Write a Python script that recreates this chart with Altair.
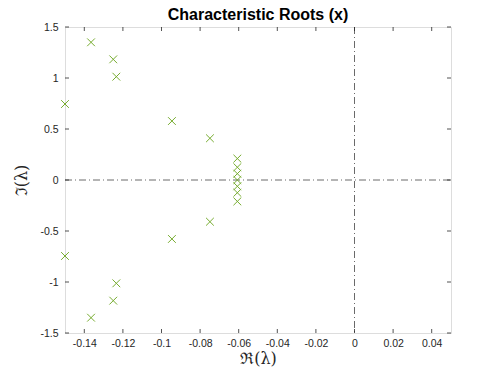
import altair as alt
import pandas as pd

# Characteristic roots (real, imaginary)
re_vals = [-0.1365, -0.125, -0.1234, -0.150, -0.0946, -0.0749,
           -0.0607, -0.0607, -0.0607, -0.0607,
           -0.0749, -0.0946, -0.150, -0.1234, -0.125, -0.1365,
           -0.0607, -0.0607, -0.0607]
im_vals = [1.35, 1.183, 1.013, 0.745, 0.578, 0.409,
           0.21, 0.125, 0.062, 0.0,
           -0.409, -0.578, -0.745, -1.013, -1.183, -1.35,
           -0.062, -0.125, -0.21]

x_ticks = [-0.14, -0.12, -0.1, -0.08, -0.06, -0.04, -0.02, 0, 0.02, 0.04]
y_ticks = [-1.5, -1, -0.5, 0, 0.5, 1, 1.5]

W, H = 386, 306
TL = 4

pts = pd.DataFrame({"re": re_vals, "im": im_vals})
xt = pd.DataFrame({"v": x_ticks})
yt = pd.DataFrame({"v": y_ticks})
zero = pd.DataFrame({"v": [0]})

xs = alt.Scale(domain=[-0.15, 0.05], nice=False, zero=False)
ys = alt.Scale(domain=[-1.5, 1.5], nice=False, zero=False)

lab = "replace(format(datum.value, '~g'), '\u2212', '-')"

xaxis = alt.Axis(values=x_ticks, ticks=False, domain=False, grid=False,
                 labelExpr=lab, labelFont="Liberation Sans", labelFontSize=10.5,
                 labelColor="#262626", labelPadding=5,
                 title="\u211c(\u03bb)", titleFont="DejaVu Serif",
                 titleFontSize=16, titleFontWeight="normal", titleColor="#262626",
                 titlePadding=2)
yaxis = alt.Axis(values=y_ticks, ticks=False, domain=False, grid=False,
                 labelExpr=lab, labelFont="Liberation Sans", labelFontSize=10.5,
                 labelColor="#262626", labelPadding=7,
                 title="\u2111(\u03bb)", titleFont="DejaVu Serif",
                 titleFontSize=16, titleFontWeight="normal", titleColor="#262626",
                 titlePadding=10)

base_points = alt.Chart(pts).mark_point(
    shape="M-1,-1L1,1M-1,1L1,-1", filled=False, size=60,
    strokeWidth=1, color="#77ac30", opacity=1
).encode(
    x=alt.X("re:Q", scale=xs, axis=xaxis),
    y=alt.Y("im:Q", scale=ys, axis=yaxis),
)

tick_style = dict(color="#262626", strokeWidth=0.8)
xt_bot = alt.Chart(xt).mark_rule(**tick_style).encode(
    x=alt.X("v:Q", scale=xs), y=alt.value(H - TL), y2=alt.value(H))
xt_top = alt.Chart(xt).mark_rule(**tick_style).encode(
    x=alt.X("v:Q", scale=xs), y=alt.value(0), y2=alt.value(TL))
yt_left = alt.Chart(yt).mark_rule(**tick_style).encode(
    y=alt.Y("v:Q", scale=ys), x=alt.value(0), x2=alt.value(TL))
yt_right = alt.Chart(yt).mark_rule(**tick_style).encode(
    y=alt.Y("v:Q", scale=ys), x=alt.value(W - TL), x2=alt.value(W))

dash = [7, 3, 1, 3]
vline = alt.Chart(zero).mark_rule(color="#444444", strokeWidth=0.8, strokeDash=dash).encode(
    x=alt.X("v:Q", scale=xs), y=alt.value(0), y2=alt.value(H))
hline = alt.Chart(zero).mark_rule(color="#444444", strokeWidth=0.8, strokeDash=dash).encode(
    y=alt.Y("v:Q", scale=ys), x=alt.value(0), x2=alt.value(W))

chart = alt.layer(
    vline, hline, xt_bot, xt_top, yt_left, yt_right, base_points
).properties(
    width=W, height=H,
    title=alt.TitleParams("Characteristic Roots (x)", font="Liberation Sans",
                          fontSize=16, fontWeight="bold", color="#000000",
                          anchor="middle", frame="group", offset=0, dy=1),
    padding={"left": 57, "top": 19, "right": 39, "bottom": 41},
    autosize="none",
).configure_view(
    stroke="#444444", strokeWidth=0.8
).configure(background="white")

chart.save("out.html", embed_options={"renderer": "svg", "actions": False})
